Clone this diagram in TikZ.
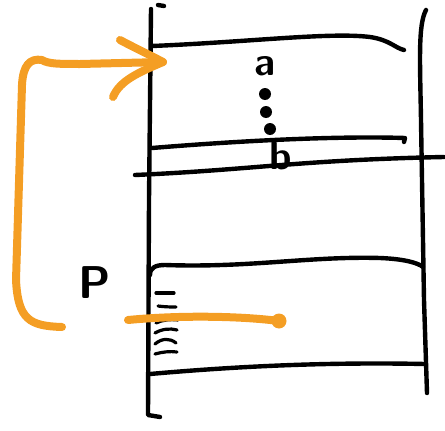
\documentclass[tikz,border=0pt]{standalone}
\usetikzlibrary{arrows.meta}
\definecolor{hlorange}{RGB}{244,158,36}
\tikzset{
  ink/.style={line width=4.4pt, line cap=round, line join=round, black},
  thinink/.style={line width=3.2pt, line cap=round, black},
  orangeline/.style={line width=8pt, line cap=round, line join=round, hlorange},
  handtext/.style={font=\fontsize{46}{46}\selectfont\sffamily\bfseries, inner sep=0pt},
  smalltext/.style={font=\fontsize{40}{40}\selectfont\sffamily\bfseries, inner sep=0pt},
  dotmark/.style={circle, fill=black, inner sep=0pt, minimum size=12pt}
}
\begin{document}
\begin{tikzpicture}[x=1pt,y=-1pt]
\useasboundingbox (0,0) rectangle (445,431);
% vertical lines
\draw[ink] (158,5) -- (164,6);
\draw[ink] (151,9) -- (149,200) -- (148,415) -- (160,417);
\draw[ink] (426,10) .. controls (418,25) and (420,60) .. (421,120) -- (424,300) -- (427,393);
% upper box
\draw[ink] (152,46) .. controls (250,42) and (330,32) .. (370,37) .. controls (390,40) and (395,48) .. (404,50);
\draw[ink] (152,148) .. controls (250,140) and (340,136) .. (405,138) -- (404,142);
\draw[ink] (135,175) .. controls (250,170) and (300,160) .. (444,157);
% lower box
\draw[ink] (150,275) .. controls (150,268) and (155,265) .. (165,265) .. controls (250,268) and (310,256) .. (380,258) .. controls (405,259) and (418,263) .. (423,267);
\draw[ink] (150,374) .. controls (240,366) and (330,362) .. (425,364);
% hatch marks
\draw[thinink] (156,293) -- (174,293);
\draw[thinink] (158,306) .. controls (165,307) and (172,307) .. (176,307);
\draw[thinink] (156,323) .. controls (162,320) and (170,319) .. (178,320);
\draw[thinink] (155,333) .. controls (162,329) and (170,328) .. (177,330);
\draw[thinink] (155,344) .. controls (162,338) and (170,338) .. (176,343);
\draw[thinink] (155,354) .. controls (162,352) and (170,351) .. (177,352);
% text
\node[handtext] (p) at (95,283) {P};
\node[smalltext] (a) at (265,66) {a};
\node[dotmark] (d1) at (265,94) {};
\node[dotmark] (d2) at (266,112) {};
\node[dotmark] (d3) at (270,129) {};
\node[smalltext] (b) at (281,156) {b};
% orange connector
\coordinate (ostart) at (62,327);
\coordinate (otip) at (163,62);
\draw[orangeline] (ostart) .. controls (30,326) and (18,320) .. (16,280) -- (22,85) .. controls (23,65) and (30,58) .. (42,60) .. controls (48,64) and (60,64) .. (80,64) -- (otip);
\draw[orangeline] (120,40) .. controls (135,48) and (150,55) .. (otip) .. controls (140,72) and (120,80) .. (113,97);
\coordinate (lstart) at (128,320);
\coordinate (ldot) at (279,321);
\draw[orangeline] (lstart) .. controls (180,315) and (240,316) .. (ldot);
\fill[hlorange] (ldot) circle (7.5pt);
\end{tikzpicture}
\end{document}
